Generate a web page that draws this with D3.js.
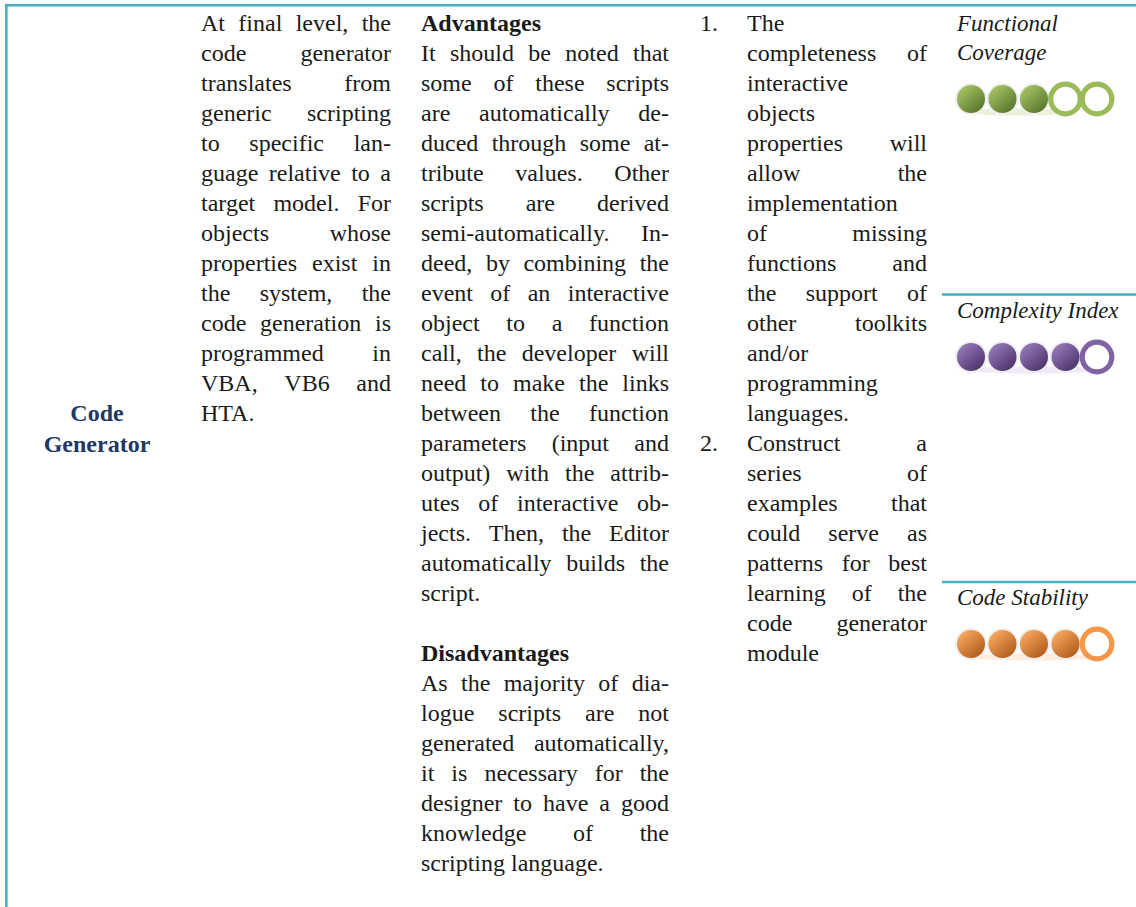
<!DOCTYPE html>
<html><head><meta charset="utf-8">
<script src="https://cdn.jsdelivr.net/npm/d3@7"></script>
<style>body{margin:0;background:#fff}</style></head>
<body><svg id="c" width="1136" height="907"></svg>
<script>
// ---------- data ----------
const rowLabel = ["Code", "Generator"];
const descLines = [
  "At final level, the", "code generator", "translates from", "generic scripting",
  "to specific lan-", "guage relative to a", "target model. For", "objects whose",
  "properties exist in", "the system, the", "code generation is", "programmed in",
  "VBA, VB6 and", "HTA."
];
const advHeading = "Advantages";
const advLines = [
  "It should be noted that", "some of these scripts", "are automatically de-",
  "duced through some at-", "tribute values. Other", "scripts are derived",
  "semi-automatically. In-", "deed, by combining the", "event of an interactive",
  "object to a function", "call, the developer will", "need to make the links",
  "between the function", "parameters (input and", "output) with the attrib-",
  "utes of interactive ob-", "jects. Then, the Editor", "automatically builds the", "script."
];
const disHeading = "Disadvantages";
const disLines = [
  "As the majority of dia-", "logue scripts are not", "generated automatically,",
  "it is necessary for the", "designer to have a good", "knowledge of the", "scripting language."
];
const recNumbers = ["1.", "2."];
const rec1Lines = [
  "The", "completeness of", "interactive", "objects", "properties will", "allow the",
  "implementation", "of missing", "functions and", "the support of", "other toolkits",
  "and/or", "programming", "languages."
];
const rec2Lines = [
  "Construct a", "series of", "examples that", "could serve as", "patterns for best",
  "learning of the", "code generator", "module"
];
const criteriaLabels = [["Functional", "Coverage"], ["Complexity Index"], ["Code Stability"]];
const ratings = [3, 4, 4];
const maxRating = 5;

// ---------- styles ----------
const border = "#4bacc6";
const palettes = [
  {light: "#a6c463", dark: "#56742a", ring: "#9bbb59", glow: "#e3edd2"},
  {light: "#9479b8", dark: "#4a3269", ring: "#8064a2", glow: "#ebe5f3"},
  {light: "#f7a85e", dark: "#b0591a", ring: "#f79646", glow: "#fce8d6"}
];
const FONT = "'Liberation Serif','Times New Roman',serif";

const svg = d3.select("#c");

// line scale: line index -> baseline
const lineY = d3.scaleLinear().domain([0, 1]).range([31, 61]);

// borders
svg.append("line").attr("x1", 5).attr("x2", 1136).attr("y1", 5.2).attr("y2", 5.2)
  .attr("stroke", border).attr("stroke-width", 2.6);
svg.append("line").attr("x1", 6.3).attr("x2", 6.3).attr("y1", 4).attr("y2", 907)
  .attr("stroke", border).attr("stroke-width", 2.6);
[294.5, 582].forEach(y => svg.append("line").attr("x1", 942).attr("x2", 1136)
  .attr("y1", y).attr("y2", y).attr("stroke", border).attr("stroke-width", 2.6));

// measuring helper
const meas = svg.append("text").attr("font-family", FONT).attr("font-size", 24).attr("opacity", 0);
function widthOf(w, weight) {
  meas.attr("font-weight", weight || "normal").text(w);
  return meas.node().getComputedTextLength();
}

function drawLine(text, x0, x1, y, justify, opts = {}) {
  const t = svg.append("text").attr("y", y).attr("font-family", FONT)
    .attr("font-size", opts.size || 24).attr("fill", opts.fill || "#1a1a1a")
    .attr("font-weight", opts.weight || "normal").attr("font-style", opts.style || "normal");
  const words = text.split(" ");
  if (!justify || words.length < 2) { t.attr("x", x0).text(text); return; }
  const ws = words.map(w => widthOf(w, opts.weight));
  const gap = (x1 - x0 - d3.sum(ws)) / (words.length - 1);
  let x = x0;
  words.forEach((w, i) => { t.append("tspan").attr("x", x).text(w); x += ws[i] + gap; });
}
function drawPara(lines, x0, x1, startIdx) {
  lines.forEach((l, i) => drawLine(l, x0, x1, lineY(startIdx + i), i < lines.length - 1));
}

// column 1 label
rowLabel.forEach((l, i) => svg.append("text").attr("x", 97).attr("y", 421 + i * 31)
  .attr("text-anchor", "middle").attr("font-family", FONT).attr("font-size", 24)
  .attr("font-weight", "bold").attr("fill", "#1f3864").text(l));

// column 2
drawPara(descLines, 201, 391, 0);

// column 3
drawLine(advHeading, 421, 669, lineY(0), false, {weight: "bold"});
drawPara(advLines, 421, 669, 1);
const disStart = 1 + advLines.length + 1;
drawLine(disHeading, 421, 669, lineY(disStart), false, {weight: "bold"});
drawPara(disLines, 421, 669, disStart + 1);

// column 4
drawLine(recNumbers[0], 700, 740, lineY(0), false);
drawPara(rec1Lines, 747, 927, 0);
drawLine(recNumbers[1], 700, 740, lineY(rec1Lines.length), false);
drawPara(rec2Lines, 747, 927, rec1Lines.length);

// column 5 ratings
const defs = svg.append("defs");
palettes.forEach((p, k) => {
  const g = defs.append("linearGradient").attr("id", "grad" + k)
    .attr("x1", 0.15).attr("y1", 0.1).attr("x2", 0.85).attr("y2", 0.95);
  g.append("stop").attr("offset", 0).attr("stop-color", p.light);
  g.append("stop").attr("offset", 1).attr("stop-color", p.dark);
});
const sectionLabelY = [[31, 60], [318], [605]];
const cx = d3.scaleLinear().domain([0, maxRating - 1]).range([971, 1097]);
criteriaLabels.forEach((lbls, k) => {
  lbls.forEach((l, i) => drawLine(l, 957, 1130, sectionLabelY[k][i], false, {style: "italic", size: 23}));
  const cy = sectionLabelY[k][lbls.length - 1] + 39;
  const p = palettes[k];
  const g = svg.append("g");
  // faint reflection
  g.append("ellipse").attr("cx", (cx(0) + cx(ratings[k])) / 2).attr("cy", cy + 13)
    .attr("rx", (cx(ratings[k]) - cx(0)) / 2 + 6).attr("ry", 3.5).attr("fill", p.glow).attr("opacity", 0.8);
  d3.range(maxRating).forEach(i => {
    if (i < ratings[k]) {
      g.append("circle").attr("cx", cx(i)).attr("cy", cy).attr("r", 16).attr("fill", "#efefef");
      g.append("circle").attr("cx", cx(i)).attr("cy", cy).attr("r", 14).attr("fill", `url(#grad${k})`);
    } else {
      g.append("circle").attr("cx", cx(i)).attr("cy", cy).attr("r", 14.8)
        .attr("fill", "#fff").attr("stroke", p.ring).attr("stroke-width", 5.2);
    }
  });
});
meas.remove();
</script>
</body></html>
